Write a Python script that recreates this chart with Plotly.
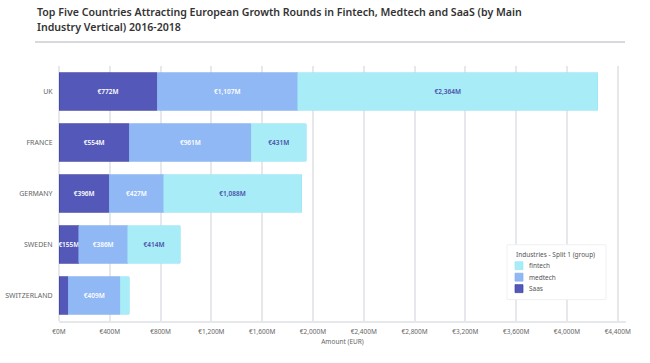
import plotly.graph_objects as go

countries = ["UK", "FRANCE", "GERMANY", "SWEDEN", "SWITZERLAND"]
saas = [772, 554, 396, 155, 73]
medtech = [1107, 961, 427, 386, 409]
fintech = [2364, 431, 1088, 414, 70]
tick_vals = [0, 400, 800, 1200, 1600, 2000, 2400, 2800, 3200, 3600, 4000, 4400]
tick_text = ["€{:,}M".format(v) for v in tick_vals]
legend_title = "Industries - Split 1 (group)"
title_1 = "Top Five Countries Attracting European Growth Rounds in Fintech, Medtech and SaaS (by Main"
title_2 = "Industry Vertical) 2016-2018"

def labels(vals):
    return ["€{:,}M".format(v) if v >= 100 else "" for v in vals]

FONT = "Noto Sans"
W, H = 650, 363
# plot area in pixels
PL, PR, PT, PB = 59, 626, 65.5, 321.5
L, R, T, B = PL, W - PR, PT, H - PB
PW, PH = PR - PL, PB - PT

def px(x):
    return (x - PL) / PW

def py(y):
    return (PB - y) / PH

fig = go.Figure()
series = [
    ("Saas", saas, "#5458b8", "#3e41a0", "white"),
    ("medtech", medtech, "#8fb8f5", "#86b0f0", "white"),
    ("fintech", fintech, "#a8ecf8", "#a0e6f5", "#4a4fa8"),
]
for name, vals, col, lcol, tcol in series:
    fig.add_trace(go.Bar(
        y=countries, x=vals, name=name, orientation="h",
        marker=dict(color=col, line=dict(width=0.7, color=lcol)),
        text=labels(vals), textposition="inside", insidetextanchor="middle",
        constraintext="none", textangle=0,
        textfont=dict(color=tcol, size=6.5, family=FONT, weight=600),
        hoverinfo="x+name", showlegend=False,
    ))

annotations = []
for txt, cy in ((title_1, 11.5), (title_2, 26.5)):
    annotations.append(dict(
        text=txt, xref="paper", yref="paper", x=px(35), y=py(cy),
        xanchor="left", yanchor="middle", align="left", showarrow=False,
        font=dict(size=10.6, color="#333", family=FONT, weight=600),
    ))
shapes = [dict(
    type="line", xref="paper", yref="paper",
    x0=px(35), x1=px(625), y0=py(41.5), y1=py(41.5),
    line=dict(color="#c8ccd2", width=1.5),
)]

# legend box
shapes.append(dict(type="rect", xref="paper", yref="paper",
                   x0=px(507), x1=px(606), y0=py(245), y1=py(300),
                   fillcolor="white", line=dict(color="#eef0f3", width=1), layer="above"))
annotations.append(dict(text=legend_title, xref="paper", yref="paper",
                        x=px(514), y=py(255), xanchor="left", yanchor="middle",
                        showarrow=False, font=dict(size=6.5, color="#555", family=FONT)))
for i, (name, vals, col, lcol, tcol) in enumerate(reversed(series)):
    cy = 266 + i * 11.5
    shapes.append(dict(type="rect", xref="paper", yref="paper",
                       x0=px(515), x1=px(523), y0=py(cy - 4), y1=py(cy + 4),
                       fillcolor=col, line=dict(width=0.7, color=lcol), layer="above"))
    annotations.append(dict(text=name, xref="paper", yref="paper",
                            x=px(527), y=py(cy), xanchor="left", yanchor="middle",
                            showarrow=False, font=dict(size=6.5, color="#555", family=FONT)))

fig.update_layout(
    width=W, height=H,
    barmode="stack", bargap=0.26,
    paper_bgcolor="white", plot_bgcolor="white",
    margin=dict(l=L, r=R, t=T, b=B, pad=0),
    font=dict(family=FONT, color="#666"),
    showlegend=False,
    xaxis=dict(
        range=[0, 4465], tickvals=tick_vals, ticktext=tick_text,
        showgrid=True, gridcolor="#e6e8ec", gridwidth=1.5,
        zeroline=True, zerolinecolor="#e6e8ec", zerolinewidth=1.5,
        showline=True, linecolor="#e6e8ec", linewidth=1.5,
        tickfont=dict(size=6.5, color="#666"), ticks="outside", ticklen=3, tickcolor="white",
        title=dict(text="Amount (EUR)", font=dict(size=6.5, color="#666"), standoff=5),
        automargin=False, fixedrange=True,
    ),
    yaxis=dict(
        categoryorder="array", categoryarray=countries, autorange="reversed",
        tickfont=dict(size=7, color="#666"), ticks="outside", ticklen=4, tickcolor="white",
        showgrid=False, zeroline=False, automargin=False, fixedrange=True,
    ),
    annotations=annotations,
    shapes=shapes,
)
fig.write_html("out.html", config={"displayModeBar": False},
               post_script="document.body.style.margin='0';document.body.style.padding='0';")
